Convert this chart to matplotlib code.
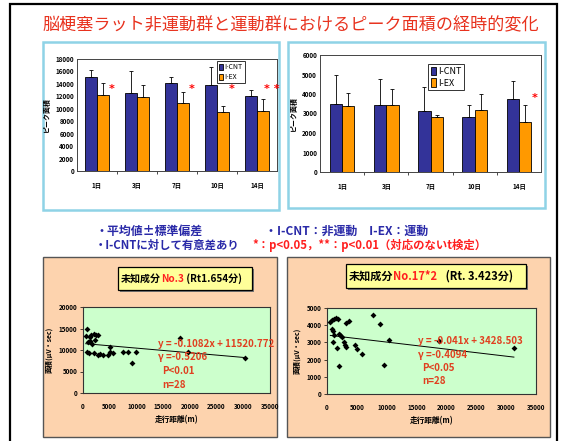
import matplotlib
matplotlib.use("Agg")
import matplotlib.pyplot as plt
import numpy as np
from matplotlib.patches import Rectangle

plt.rcParams['font.family'] = ['Noto Sans CJK JP', 'DejaVu Sans']

# ---------------- data ----------------
days = ['1日', '3日', '7日', '10日', '14日']
series_names = ['I-CNT', 'I-EX']

left_cnt = [15100, 12600, 14150, 13800, 12000]
left_cnt_sd = [1150, 3400, 950, 2900, 1000]
left_ex = [12200, 11850, 10850, 9500, 9650]
left_ex_sd = [1950, 1900, 1800, 950, 1900]
left_sig = ['*', '', '*', '*', '* *']

right_cnt = [3500, 3450, 3120, 2800, 3760]
right_cnt_sd = [1470, 1330, 1220, 640, 900]
right_ex = [3370, 3450, 2800, 3170, 2540]
right_ex_sd = [700, 830, 130, 830, 920]
right_sig = ['', '', '', '', '*']

sc1_x = [750, 500, 1250, 1560, 2000, 2400, 2800, 940, 1400, 1750, 2200, 750, 1100, 2000,
         2800, 3250, 3750, 4700, 5000, 5000, 5600, 7500, 8400, 9100, 10000, 18100, 19700, 30300]
sc1_y = [14850, 13300, 13100, 13450, 13700, 13600, 13450, 11800, 12100, 11300, 12300, 9600, 9250, 9250,
         8850, 9000, 8850, 8850, 9600, 10800, 9250, 9450, 9450, 6900, 9450, 12850, 9450, 8250]
sc1_slope, sc1_icpt = -0.1082, 11520.772
sc1_stats = ['y = -0.1082x + 11520.772', 'γ =-0.5206', 'P<0.01', 'n=28']

sc2_x = [560, 840, 1120, 1500, 1850, 840, 950, 1120, 950, 1680, 1950, 2250, 2500, 2800,
         3000, 3200, 1950, 3200, 3750, 4750, 5000, 5900, 7650, 8800, 9500, 10450, 18700, 31300]
sc2_y = [4200, 4300, 4380, 4420, 4380, 3800, 3650, 3420, 3000, 2650, 3500, 3450, 3300, 3000,
         2850, 2750, 1650, 4100, 4250, 2850, 2600, 2300, 4580, 4080, 1700, 3120, 3080, 2650]
sc2_slope, sc2_icpt = -0.041, 3428.503
sc2_stats = ['y = -0.041x + 3428.503', 'γ =-0.4094', 'P<0.05', 'n=28']

title = '脳梗塞ラット非運動群と運動群におけるピーク面積の経時的変化'

# ---------------- layout helpers ----------------
W, H = 571, 441
fig = plt.figure(figsize=(W / 100, H / 100), dpi=100)
fig.patch.set_facecolor('white')


def ax_px(x0, y0, x1, y1, **kw):
    return fig.add_axes([x0 / W, 1 - y1 / H, (x1 - x0) / W, (y1 - y0) / H], **kw)


def rect_px(x0, y0, x1, y1, **kw):
    r = Rectangle((x0 / W, 1 - y1 / H), (x1 - x0) / W, (y1 - y0) / H,
                  transform=fig.transFigure, **kw)
    fig.add_artist(r)
    return r


def text_px(x, y, s, **kw):
    return fig.text(x / W, 1 - y / H, s, **kw)


NAVY = '#333399'
ORANGE = '#ff9900'
RED = '#e8321e'
BLUE = '#2a2aa8'

# outer frame
rect_px(10, 4, 557, 450, fill=False, edgecolor='black', lw=1.6, zorder=0)

# title
text_px(291, 25, title, color=RED, fontsize=12.3, ha='center', va='center')

# top panels
rect_px(43, 42, 279, 210, facecolor='white', edgecolor='#8fd3e6', lw=1.8, zorder=0)
rect_px(288, 42, 545, 208, facecolor='white', edgecolor='#8fd3e6', lw=1.8, zorder=0)


def bar_chart(ax, cnt, cnt_sd, ex, ex_sd, sig, ymax, ystep, sig_y, legend_bbox, bw, lfs):
    x = np.arange(len(days))
    ax.bar(x - bw / 2, cnt, bw, color=NAVY, edgecolor='black', lw=0.6,
           yerr=[np.zeros(len(cnt)), cnt_sd], error_kw=dict(ecolor='black', elinewidth=0.6, capsize=1.5, capthick=0.6),
           label=series_names[0])
    ax.bar(x + bw / 2, ex, bw, color=ORANGE, edgecolor='black', lw=0.6,
           yerr=[np.zeros(len(ex)), ex_sd], error_kw=dict(ecolor='black', elinewidth=0.6, capsize=1.5, capthick=0.6),
           label=series_names[1])
    for i, s in enumerate(sig):
        if s:
            ax.text(i + 0.36, sig_y, s, color='red', fontsize=8, fontweight='bold',
                    ha='center', va='center', family='DejaVu Sans')
    ax.set_xlim(-0.5, len(days) - 0.5)
    ax.set_ylim(0, ymax)
    ax.set_yticks(np.arange(0, ymax + 1, ystep))
    ax.set_xticks(x)
    ax.set_xticklabels(days)
    ax.set_xticks(np.arange(0.5, len(days) - 0.5, 1), minor=True)
    ax.tick_params(axis='x', which='major', length=0, labelsize=4.5, pad=8)
    ax.tick_params(axis='x', which='minor', length=2, width=0.5, direction='out')
    ax.tick_params(axis='y', length=0, labelsize=4.5, pad=2)
    for lab in ax.get_yticklabels() + ax.get_xticklabels():
        lab.set_fontweight('bold')
    for sp in ax.spines.values():
        sp.set_linewidth(0.7)
        sp.set_color('#444444')
    leg = ax.legend(loc='upper left', bbox_to_anchor=legend_bbox, fontsize=lfs, frameon=True,
                    fancybox=False, edgecolor='black', handlelength=0.5, handleheight=1.0,
                    handletextpad=0.3, borderpad=0.3, labelspacing=0.25, borderaxespad=0)
    leg.get_frame().set_linewidth(0.7)
    ax.set_ylabel('ピーク面積', fontsize=5, fontweight='bold', labelpad=4)


ax1 = ax_px(77, 59, 277, 171)
bar_chart(ax1, left_cnt, left_cnt_sd, left_ex, left_ex_sd, left_sig, 18000, 2000, 13200,
          (0.70, 0.98), 0.29, 5)

ax2 = ax_px(320, 55, 541, 172)
bar_chart(ax2, right_cnt, right_cnt_sd, right_ex, right_ex_sd, right_sig, 6000, 1000, 3800,
          (0.49, 0.92), 0.28, 6.5)

# middle notes
text_px(95, 231, '・平均値±標準偏差', color=BLUE, fontsize=8.6, fontweight='bold', va='center')
text_px(265, 231, '・I-CNT：非運動　I-EX：運動', color=BLUE, fontsize=8.6, fontweight='bold', va='center')
text_px(95, 245, '・I-CNTに対して有意差あり', color=BLUE, fontsize=8.2, fontweight='bold', va='center')
text_px(252, 245, '*：p<0.05，**：p<0.01（対応のないt検定）', color='#ff2020', fontsize=8.2,
        fontweight='bold', va='center')

# bottom panels
PEACH = '#fdd3ae'
rect_px(43, 257, 277, 437, facecolor=PEACH, edgecolor='#555555', lw=1.0, zorder=0)
rect_px(287, 257, 550, 437, facecolor=PEACH, edgecolor='#555555', lw=1.0, zorder=0)


def scatter_chart(ax, xs, ys, slope, icpt, ymax, ystep, stats, stat_xy):
    ax.set_facecolor('#ccffcc')
    ax.scatter(xs, ys, marker='D', s=9, color='black', zorder=3, linewidths=0)
    xl = np.array([min(xs), max(xs)])
    ax.plot(xl, slope * xl + icpt, color='black', lw=0.7, zorder=2)
    ax.set_xlim(0, 35000)
    ax.set_ylim(0, ymax)
    ax.set_xticks(np.arange(0, 35001, 5000))
    ax.set_yticks(np.arange(0, ymax + 1, ystep))
    ax.tick_params(axis='x', length=0, labelsize=4.5, pad=7)
    ax.tick_params(axis='y', length=2, width=0.5, labelsize=4.5, pad=2)
    for lab in ax.get_yticklabels() + ax.get_xticklabels():
        lab.set_fontweight('bold')
    for sp in ax.spines.values():
        sp.set_linewidth(0.8)
        sp.set_color('#333333')
    ax.set_xlabel('走行距離(m)', fontsize=5.5, fontweight='bold', labelpad=4)
    ax.set_ylabel('面積(μV・sec)', fontsize=5, fontweight='bold', labelpad=4)
    x0, y0 = stat_xy
    for k, s in enumerate(stats):
        text_px(x0 + (4 if k > 1 else 0), y0 + 13.5 * k, s, color='#e04020', fontsize=7,
                fontweight='bold', va='center', zorder=5)


ax3 = ax_px(83, 307, 270, 393)
scatter_chart(ax3, sc1_x, sc1_y, sc1_slope, sc1_icpt, 20000, 5000, sc1_stats, (158, 344))

ax4 = ax_px(327, 308, 536, 394)
scatter_chart(ax4, sc2_x, sc2_y, sc2_slope, sc2_icpt, 5000, 1000, sc2_stats, (418, 341))


# title boxes in scatter panels
def title_box(x0, y0, x1, y1, parts, fs):
    rect_px(x0 + 2, y0 + 2, x1 + 2, y1 + 2, facecolor='#777777', edgecolor='none', zorder=1)
    rect_px(x0, y0, x1, y1, facecolor='#ffff99', edgecolor='black', lw=0.9, zorder=2)
    x = x0 + 3
    yc = (y0 + y1) / 2
    fig.canvas.draw()
    r = fig.canvas.get_renderer()
    for s, c in parts:
        t = text_px(x, yc, s, color=c, fontsize=fs, fontweight='bold', va='center', zorder=3)
        bb = t.get_window_extent(renderer=r)
        x += bb.width


title_box(118, 267, 252, 290, [('未知成分', 'black'), ('No.3', '#ff2020'), (' (Rt1.654分)', 'black')], 7.2)
title_box(346, 264, 526, 288, [('未知成分', 'black'), ('No.17*2', '#ff2020'), ('   (Rt. 3.423分)', 'black')], 8)

fig.savefig('out.png', dpi=100)
